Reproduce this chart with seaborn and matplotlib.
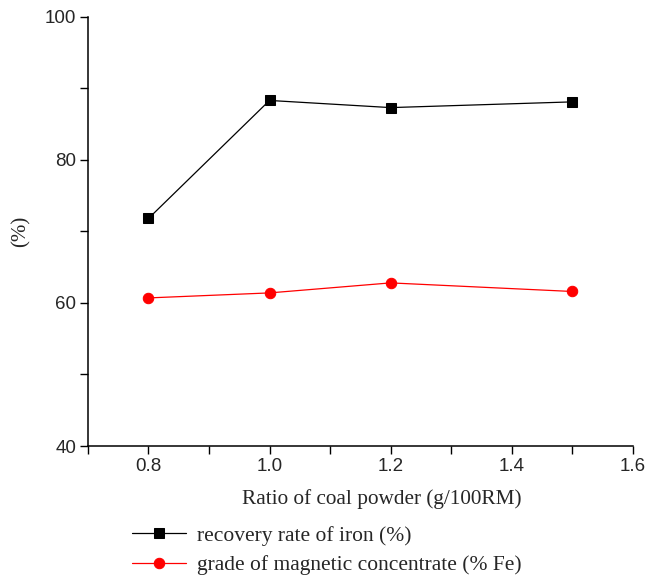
import numpy as np
import pandas as pd
import matplotlib
matplotlib.use("Agg")
import matplotlib.pyplot as plt
import seaborn as sns
from matplotlib.ticker import MultipleLocator, FuncFormatter

# data
coal_ratio = [0.8, 1.0, 1.2, 1.5]
recovery = [71.8, 88.3, 87.3, 88.1]
grade = [60.7, 61.4, 62.8, 61.6]
labels = ["recovery rate of iron (%)", "grade of magnetic concentrate (% Fe)"]

df = pd.DataFrame({"ratio": coal_ratio, "recovery": recovery, "grade": grade})

sns.set_style("ticks")
plt.rcParams["font.family"] = ["Liberation Sans", "DejaVu Sans"]

fig = plt.figure(figsize=(6.51, 5.77), dpi=100)
ax = fig.add_axes([0.135, 0.227, 0.837, 0.744])

sns.lineplot(data=df, x="ratio", y="recovery", ax=ax, color="black", marker="s",
             markersize=6.5, markeredgecolor="black", linewidth=0.9, label=labels[0])
sns.lineplot(data=df, x="ratio", y="grade", ax=ax, color="red", marker="o",
             markersize=7.5, markeredgecolor="red", linewidth=0.9, label=labels[1])

ax.set_xlim(0.7, 1.6)
ax.set_ylim(40, 100)
ax.xaxis.set_major_locator(MultipleLocator(0.1))
ax.xaxis.set_major_formatter(FuncFormatter(
    lambda v, p: f"{v:.1f}" if abs(round(v * 10) % 2) == 0 else ""))
ax.yaxis.set_major_locator(MultipleLocator(10))
ax.yaxis.set_major_formatter(FuncFormatter(
    lambda v, p: f"{v:.0f}" if round(v) % 20 == 0 else ""))
ax.tick_params(axis="both", direction="out", length=5.5, width=1,
               labelsize=13.5, pad=3, color="black")

for s in ["top", "right"]:
    ax.spines[s].set_visible(False)
for s in ["left", "bottom"]:
    ax.spines[s].set_linewidth(1.1)
    ax.spines[s].set_color("black")

ax.set_xlabel("Ratio of coal powder (g/100RM)", fontfamily="Liberation Serif",
              fontsize=15.3, labelpad=10)
ax.xaxis.label.set_x(0.54)
ax.set_ylabel("(%)", fontfamily="Liberation Serif", fontsize=15, labelpad=10)

handles, lbls = ax.get_legend_handles_labels()
ax.legend_.remove()
fig.legend(handles, lbls, loc="upper left", bbox_to_anchor=(0.203, 0.089),
           frameon=False, prop={"family": "Liberation Serif", "size": 15.5},
           handlelength=2.5, handletextpad=0.5, labelspacing=0.45,
           borderaxespad=0, borderpad=0)

fig.savefig("out.png", dpi=100)
